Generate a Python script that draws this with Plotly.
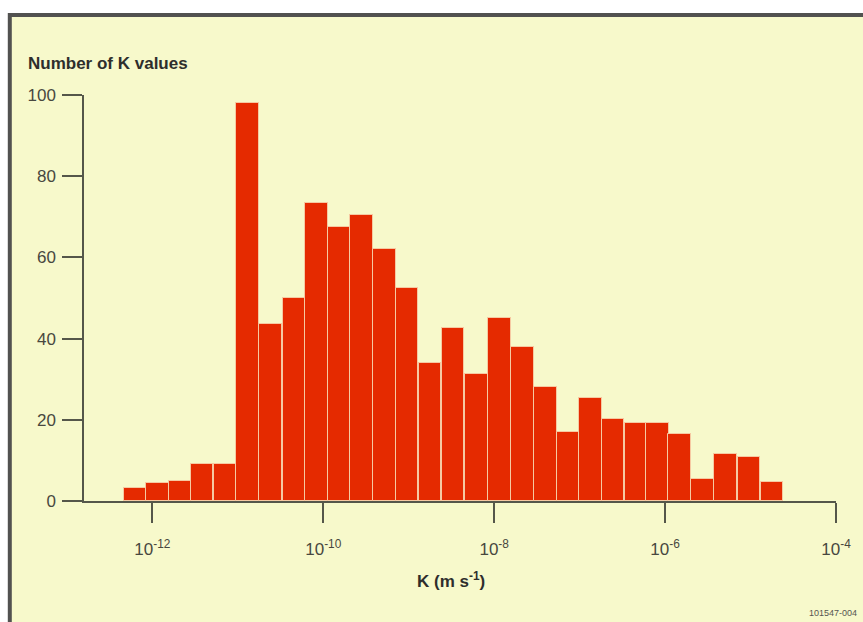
import plotly.graph_objects as go

# Histogram of hydraulic conductivity values, binned on log10(K)
bin_centers = [-12.20, -11.94, -11.67, -11.42, -11.15, -10.89, -10.62, -10.34,
               -10.08, -9.81, -9.55, -9.28, -9.02, -8.75, -8.48, -8.21,
               -7.94, -7.67, -7.40, -7.13, -6.87, -6.61, -6.34, -6.09,
               -5.83, -5.56, -5.29, -5.02, -4.75]
counts = [3.2, 4.4, 4.9, 9, 9, 98, 43.5, 50,
          73.5, 67.5, 70.5, 62, 52.5, 34, 42.5, 31.3,
          45, 38, 28, 17, 25.3, 20.2, 19.3, 19.3,
          16.4, 5.5, 11.7, 10.8, 4.6]
bin_width = 0.265

x_tick_vals = [-12, -10, -8, -6, -4]
x_tick_text = ["10<sup>-12</sup>", "10<sup>-10</sup>", "10<sup>-8</sup>",
               "10<sup>-6</sup>", "10<sup>-4</sup>"]
y_tick_vals = [0, 20, 40, 60, 80, 100]

W, H = 863, 622
L, R, T, B = 84, 24, 95, 121
pw, ph = W - L - R, H - T - B

BG = "#f7f9cb"
BAR = "#e52a00"
AX = "#55574a"
TXT = "#3c3c38"
FONT = "Liberation Sans, Arial, sans-serif"


def px_x(px):
    return (px - L) / pw


def px_y(py):
    return (H - B - py) / ph


fig = go.Figure(go.Bar(
    x=bin_centers,
    y=counts,
    width=bin_width,
    marker=dict(color=BAR, line=dict(color="#f6c9a2", width=1)),
    hoverinfo="x+y",
))

fig.update_layout(
    width=W, height=H,
    margin=dict(l=L, r=R, t=T, b=B, pad=0),
    paper_bgcolor="white",
    plot_bgcolor="rgba(0,0,0,0)",
    showlegend=False,
    bargap=0,
    font=dict(family=FONT, color=TXT),
    shapes=[dict(
        type="rect", xref="paper", yref="paper", layer="below",
        x0=px_x(9.5), x1=px_x(880), y0=px_y(640), y1=px_y(15),
        line=dict(color="#525250", width=4), fillcolor=BG,
    )],
    annotations=[
        dict(text="<b>Number of K values</b>", xref="paper", yref="paper",
             x=px_x(26), y=px_y(64), xanchor="left", yanchor="middle",
             showarrow=False, font=dict(size=17, family=FONT, color="#2e2e2c")),
        dict(text="<b>K (m s<sup>-1</sup>)</b>", xref="paper", yref="paper",
             x=px_x(452), y=px_y(580), xanchor="center", yanchor="middle",
             showarrow=False, font=dict(size=17, family=FONT, color="#2e2e2c")),
        dict(text="101547-004", xref="paper", yref="paper",
             x=px_x(862), y=px_y(613), xanchor="right", yanchor="middle",
             showarrow=False, font=dict(size=9, family=FONT, color="#555550")),
    ],
)

fig.update_xaxes(
    range=[-12.8, -4.0],
    tickvals=x_tick_vals, ticktext=x_tick_text,
    showline=True, linecolor=AX, linewidth=1.5,
    ticks="outside", ticklen=20, tickwidth=1.5, tickcolor=AX,
    ticklabelstandoff=12,
    showgrid=False, zeroline=False,
    tickfont=dict(size=17, family=FONT, color="#48483f"),
    fixedrange=True,
)
fig.update_yaxes(
    range=[0, 100],
    tickvals=y_tick_vals,
    showline=True, linecolor=AX, linewidth=1.5,
    ticks="outside", ticklen=20, tickwidth=1.5, tickcolor=AX,
    ticklabelstandoff=3,
    showgrid=False, zeroline=False,
    tickfont=dict(size=17, family=FONT, color="#48483f"),
    fixedrange=True,
)

fig.write_html("out.html")
